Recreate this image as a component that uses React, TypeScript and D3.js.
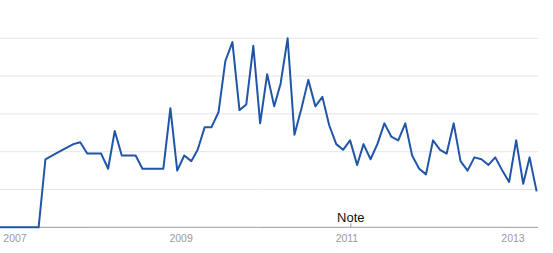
import React from "react";
import * as d3 from "d3";

const W = 553;
const H = 253;

// Monthly data, first point Oct 2006 (mid-month)
const startMonth = new Date(2006, 9, 15);
const values: number[] = [
  0, 0, 0, 0, 0, 0, 0,
  36, 38, 40, 42, 44, 45, 39, 39, 39, 31,
  51, 38, 38, 38, 31, 31, 31, 31, 63, 30,
  38, 35, 41, 53, 53, 61, 88, 98, 62, 65,
  96, 55, 81, 64, 76, 100, 49, 63, 78, 64,
  69, 54, 44, 41, 46, 33, 44, 36, 44, 55,
  48, 46, 55, 38, 31, 28, 46, 41, 39, 55,
  35, 30, 37, 36, 33, 37, 30, 24, 46, 23,
  37, 19,
];
const yearTicks = ["2007", "2009", "2011", "2013"];
const gridValues = [20, 40, 60, 80, 100];
const noteLabel = "Note";
const noteDate = new Date(2011, 0, 18);

export default function App() {
  const x = d3
    .scaleTime()
    .domain([new Date(2007, 0, 1), new Date(2013, 0, 1)])
    .range([15, 513]);
  const y = d3.scaleLinear().domain([0, 100]).range([227.3, 38.3]);
  const plotRight = 538;

  const pts = values.map((v, i) => ({ d: d3.timeMonth.offset(startMonth, i), v }));
  const line = d3
    .line<{ d: Date; v: number }>()
    .x((p) => x(p.d))
    .y((p) => y(p.v));

  const nx = x(noteDate);

  return (
    <svg
      width={W}
      height={H}
      style={{ position: "absolute", left: 0, top: 0, background: "#fff" }}
      fontFamily="Arial, 'Liberation Sans', sans-serif"
    >
      <defs>
        <clipPath id="plot">
          <rect x={0} y={0} width={plotRight} height={H} />
        </clipPath>
      </defs>
      {gridValues.map((g) => (
        <line key={g} x1={0} x2={plotRight} y1={y(g)} y2={y(g)} stroke="#e6e6e6" strokeWidth={1} />
      ))}
      <line x1={0} x2={plotRight} y1={y(0)} y2={y(0)} stroke="#9a9a9a" strokeWidth={1} />
      <path
        d={line(pts) || ""}
        fill="none"
        stroke="#2155a8"
        strokeWidth={2}
        strokeLinejoin="round"
        clipPath="url(#plot)"
      />
      {yearTicks.map((t) => (
        <text key={t} x={x(new Date(+t, 0, 1))} y={242} fontSize={10.5} fill="#9a9a9a" textAnchor="middle">
          {t}
        </text>
      ))}
      <line x1={nx} x2={nx} y1={223.5} y2={227.3} stroke="#9a9a9a" strokeWidth={1} />
      <text x={nx} y={222} fontSize={13} fill="#111" textAnchor="middle">
        {noteLabel}
      </text>
    </svg>
  );
}
